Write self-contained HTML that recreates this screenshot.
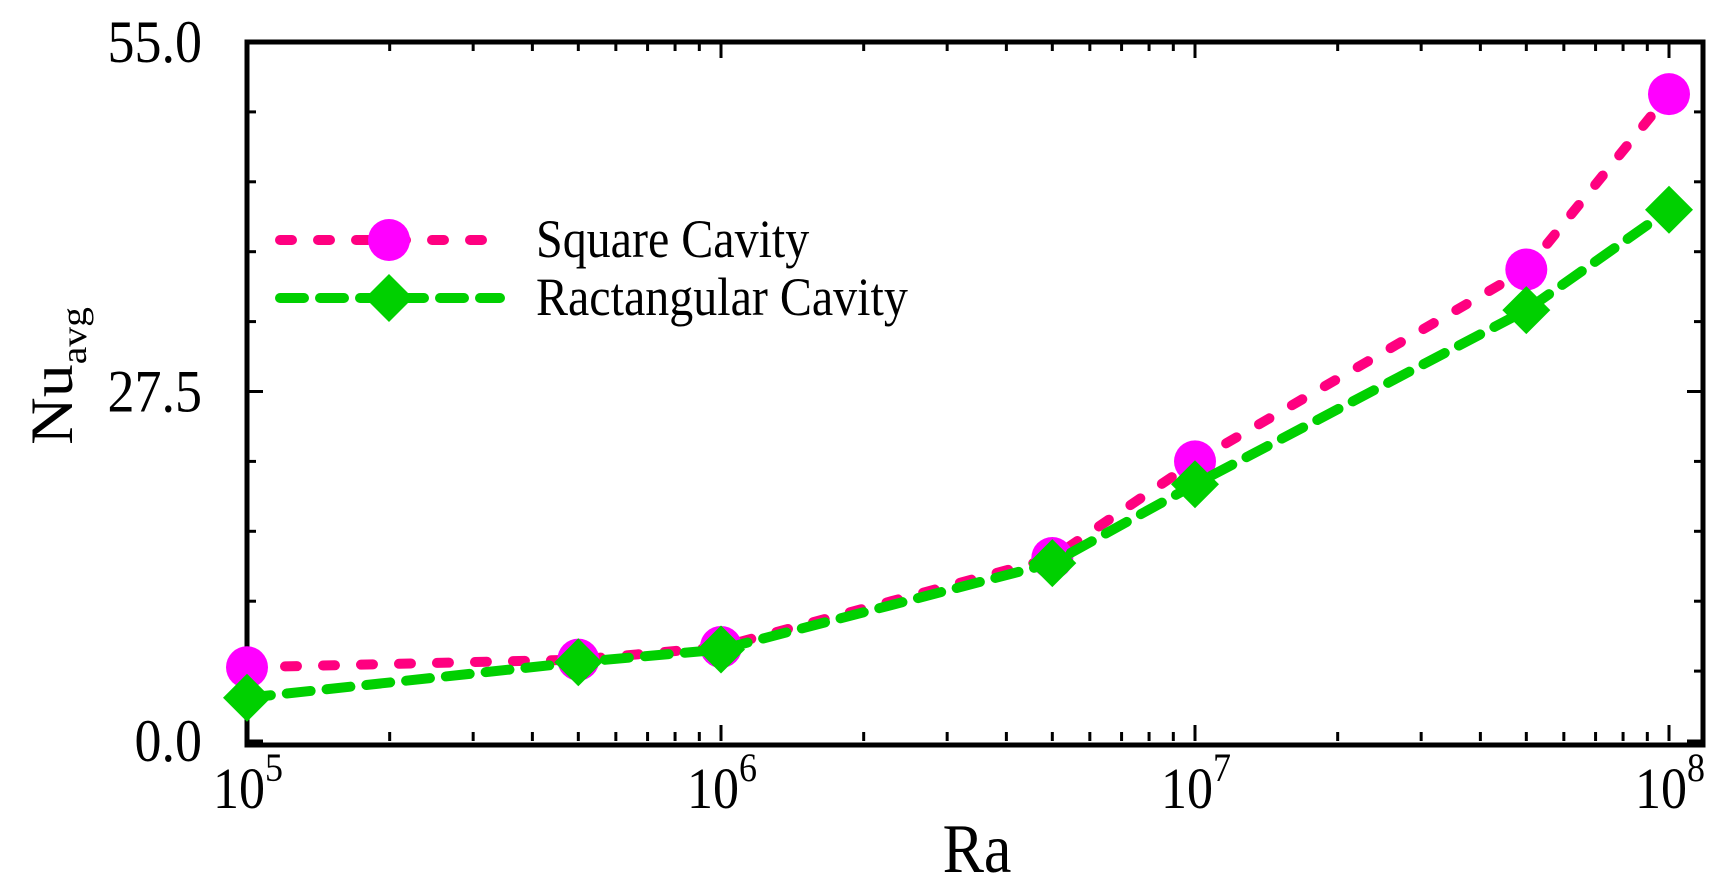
<!DOCTYPE html>
<html><head><meta charset="utf-8"><style>
html,body{margin:0;padding:0;background:#fff;}
svg{display:block;font-family:"Liberation Serif",serif;}
</style></head><body>
<svg id="chart" width="1724" height="895" viewBox="0 0 1724 895"></svg>
<script>
const categories = [1e5, 5e5, 1e6, 5e6, 1e7, 5e7, 1e8];
const squareValues = [5.8, 6.4, 7.4, 14.4, 22.0, 37.1, 50.9];
const rectValues = [3.4, 6.2, 7.2, 14.0, 20.2, 33.9, 41.8];
const yTickValues = [0, 27.5, 55];
const yTickLabels = ["0.0", "27.5", "55.0"];
const xDecades = [5, 6, 7, 8];

const NS = "http://www.w3.org/2000/svg";
const svg = document.getElementById("chart");
const L = 247, R = 1703, T = 42, B = 741, DEC = 474;
const xs = v => L + (Math.log10(v) - 5) * DEC;
const ys = v => B - v / 55 * (B - T);
function mk(tag, attrs, parent) {
  const e = document.createElementNS(NS, tag);
  for (const k in attrs) e.setAttribute(k, attrs[k]);
  (parent || svg).appendChild(e);
  return e;
}
function txt(x, y, size, sy, anchor, parent) {
  return mk("text", {transform: `translate(${x},${y}) scale(1,${sy})`, "text-anchor": anchor, "font-size": size}, parent);
}
// ticks
const tickG = mk("g", {stroke: "#000", "stroke-width": 3});


for (let d = 5; d <= 8; d++) {
  for (let m = 1; m <= 9; m++) {
    const x = xs(m * Math.pow(10, d));
    if (x > R - 2) continue;
    const len = m === 1 ? 16 : 9;
    mk("line", {x1: x, y1: B, x2: x, y2: B - len}, tickG);
    mk("line", {x1: x, y1: T, x2: x, y2: T + len}, tickG);
  }
}
for (let i = 0; i <= 10; i++) {
  const v = i * 5.5, y = ys(v);
  const len = (i % 5 === 0) ? 16 : 9;
  mk("line", {x1: L, y1: y, x2: L + len, y2: y}, tickG);
  mk("line", {x1: R, y1: y, x2: R - len, y2: y}, tickG);
}
// frame
const frame = mk("rect", {x: L, y: T, width: R - L, height: 745 - T, fill: "none", stroke: "#000", "stroke-width": 5});


// y labels
yTickValues.forEach((v, i) => {
  const t = txt(202, ys(v) + 20, 54, 1.12, "end");
  t.textContent = yTickLabels[i];
  
  
});
// x labels
xDecades.forEach(d => {
  const t = txt(xs(Math.pow(10, d)) - 34, 808, 52, 1.12, "start");
  t.innerHTML = '10<tspan dy="-24" font-size="36">' + d + '</tspan>';
  
  
});
const xt = txt(977, 872, 62, 1.12, "middle");
xt.textContent = "Ra";


const yt = mk("text", {transform: "translate(72,376) rotate(-90) scale(1.1,1)", "text-anchor": "middle", "font-size": 60});
yt.innerHTML = 'Nu<tspan dy="14" font-size="36">avg</tspan>';



function series(vals, color, dash, mcolor, shape, name) {
  const g = mk("g", {});
  
  
  const pts = categories.map((c, i) => xs(c) + "," + ys(vals[i])).join(" ");
  mk("polyline", {points: pts, fill: "none", stroke: color, "stroke-width": 10, "stroke-dasharray": dash, "stroke-linecap": "round"}, g);
  categories.forEach((c, i) => marker(g, xs(c), ys(vals[i]), mcolor, shape));
}
function marker(g, x, y, c, shape) {
  let e;
  if (shape === "circle") e = mk("circle", {cx: x, cy: y, r: 21, fill: c}, g);
  else { const s = 24; e = mk("polygon", {points: `${x},${y-s} ${x+s},${y} ${x},${y+s} ${x-s},${y}`, fill: c}, g); }
  
  
}
series(squareValues, "#ff0080", "12 26", "#ff00ff", "circle", "square-cavity-series");
series(rectValues, "#00d000", "24 16", "#00d000", "diamond", "rectangular-cavity-series");

// legend
const lg = mk("g", {});


[["Square Cavity", 240, "#ff0080", "12 26", "#ff00ff", "circle"],
 ["Ractangular Cavity", 298, "#00d000", "24 16", "#00d000", "diamond"]].forEach(a => {
  const eg = mk("g", {}, lg);
  
  
  mk("line", {x1: 280, y1: a[1], x2: 500, y2: a[1], stroke: a[2], "stroke-width": 10, "stroke-dasharray": a[3], "stroke-linecap": "round"}, eg);
  marker(eg, 389, a[1], a[4], a[5]);
  const t = txt(536, a[1] + 17, 48, 1.12, "start", eg);
  t.textContent = a[0];
});
</script>
</body></html>
